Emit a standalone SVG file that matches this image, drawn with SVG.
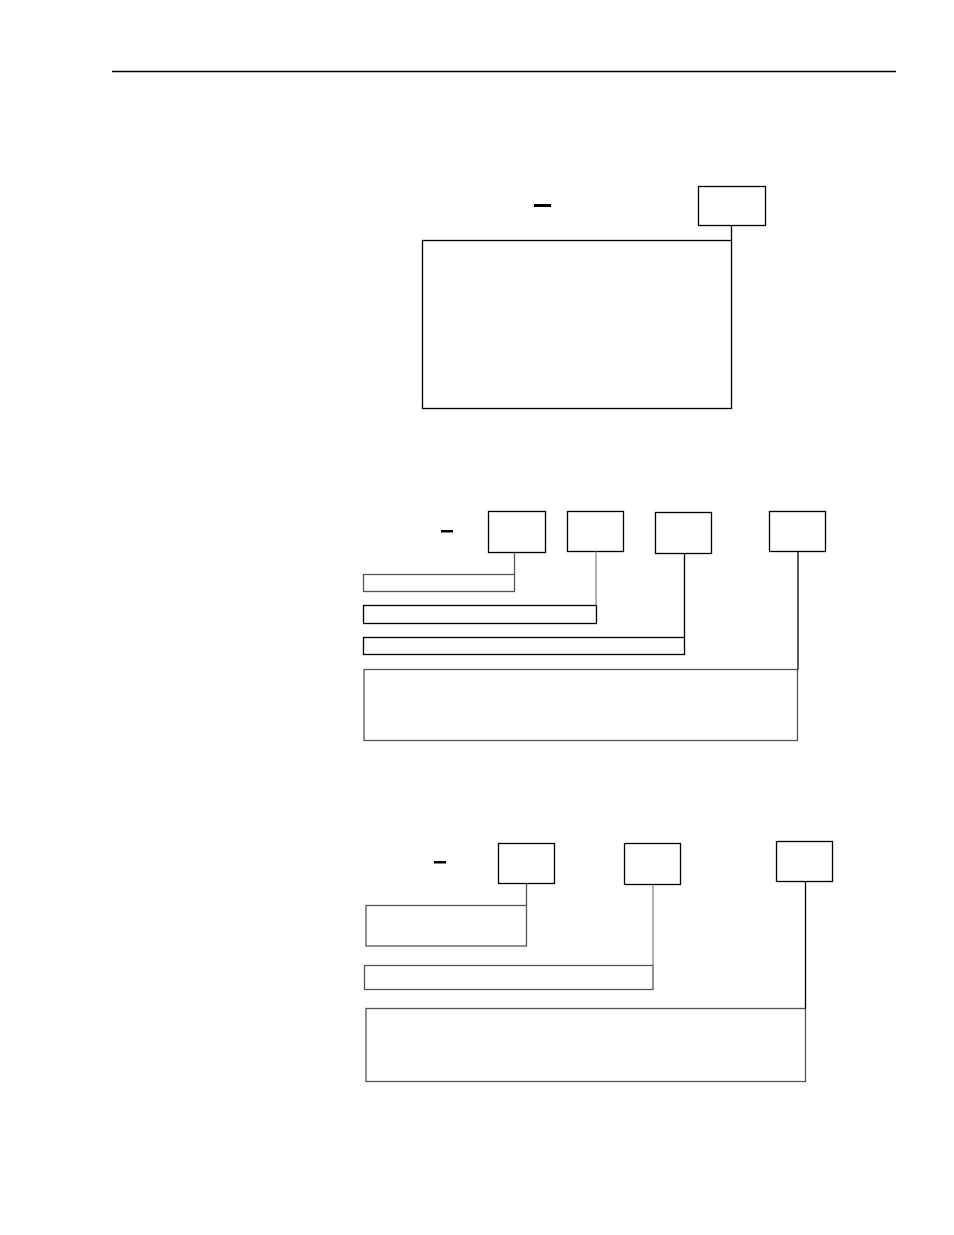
<svg xmlns="http://www.w3.org/2000/svg" width="954" height="1235" viewBox="0 0 954 1235">
<style>
.b{fill:none;stroke:#000;stroke-width:1.3}
.g{fill:none;stroke:#555;stroke-width:1.3}
.c{fill:none;stroke:#000;stroke-width:1.3}
.cg{fill:none;stroke:#888;stroke-width:1.3}
.d{fill:#000}
</style>
<rect width="954" height="1235" fill="#fff"/>
<line x1="112" y1="71.5" x2="896" y2="71.5" stroke="#000" stroke-width="1.4"/>
<g id="section1">
<rect class="d" x="534" y="204" width="17" height="3"/>
<g id="s1-code"><rect class="b" x="698.5" y="186.5" width="67" height="39"/></g>
<g id="s1-desc"><rect class="b" x="422.5" y="240.5" width="309" height="168"/></g>
</g>
<g id="section2">
<rect class="d" x="441" y="530" width="12" height="2.5"/>
<g id="s2-code1"><rect class="b" x="488.5" y="511.5" width="57" height="41"/></g>
<g id="s2-code2"><rect class="b" x="567.5" y="511.5" width="56" height="40"/></g>
<g id="s2-code3"><rect class="b" x="655.5" y="512.5" width="56" height="41"/></g>
<g id="s2-code4"><rect class="b" x="769.5" y="511.5" width="56" height="40"/></g>
<g id="s2-desc1"><rect class="g" x="363.5" y="574.5" width="151" height="17"/></g>
<g id="s2-desc2"><rect class="b" x="363.5" y="605.5" width="233" height="18"/></g>
<g id="s2-desc3"><rect class="b" x="363.5" y="637.5" width="321" height="17"/></g>
<g id="s2-desc4"><rect class="g" x="364" y="669.5" width="433.5" height="71"/></g>
</g>
<g id="section3">
<rect class="d" x="434" y="861" width="12" height="2.5"/>
<g id="s3-code1"><rect class="b" x="498.5" y="843.5" width="56" height="40"/></g>
<g id="s3-code2"><rect class="b" x="624.5" y="843.5" width="56" height="41"/></g>
<g id="s3-code3"><rect class="b" x="776.5" y="841.5" width="56" height="40"/></g>
<g id="s3-desc1"><rect class="g" x="366" y="905.5" width="160.5" height="40.5"/></g>
<g id="s3-desc2"><rect class="g" x="364.5" y="965.5" width="288.5" height="24"/></g>
<g id="s3-desc3"><rect class="g" x="366" y="1008.5" width="439.5" height="73"/></g>
</g>
<g id="connectors">
<line class="c" x1="731.5" y1="225.5" x2="731.5" y2="240.5"/>
<line class="g" x1="514.5" y1="552.5" x2="514.5" y2="574.5"/>
<line class="cg" x1="596" y1="551.5" x2="596" y2="605.5"/>
<line class="c" x1="684.5" y1="553.5" x2="684.5" y2="637.5"/>
<line class="c" x1="798" y1="551.5" x2="798" y2="669.5"/>
<line class="g" x1="526.5" y1="883.5" x2="526.5" y2="905.5"/>
<line class="cg" x1="653" y1="884.5" x2="653" y2="965.5"/>
<line class="c" x1="805.5" y1="881.5" x2="805.5" y2="1008.5"/>
</g>
</svg>
